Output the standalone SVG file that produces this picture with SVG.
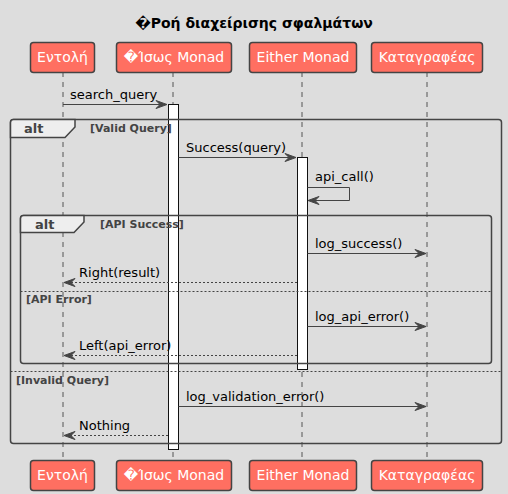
<svg xmlns="http://www.w3.org/2000/svg" width="508" height="494" viewBox="0 0 508 494">
<style>
text{font-family:"DejaVu Sans","Noto Sans",sans-serif;}
.title{font-size:14px;font-weight:bold;fill:#000;}
.pbox{fill:#FF6F61;stroke:#444;stroke-width:1.5;}
.ptxt{font-size:14px;fill:#fff;text-anchor:middle;}
.life{stroke:#555;stroke-width:1;stroke-dasharray:5,5;fill:none;}
.act{fill:#fff;stroke:#111;stroke-width:1;}
.msg{stroke:#444;stroke-width:1;fill:none;}
.dash{stroke:#444;stroke-width:1;stroke-dasharray:2,2;fill:none;}
.mtxt{font-size:13px;fill:#000;}
.frame{fill:none;stroke:#444;stroke-width:1.5;}
.tab{fill:#EEEEEE;stroke:#444;stroke-width:1.5;}
.alt{font-size:13px;font-weight:bold;fill:#444;}
.cond{font-size:11px;font-weight:bold;fill:#444;}
.sep{stroke:#444;stroke-width:1;stroke-dasharray:2,2;}
.head{fill:#444;stroke:#444;stroke-width:1;}
</style>
<rect width="508" height="494" fill="#DDDDDD"/>
<text class="title" x="254" y="28" text-anchor="middle">�Ροή διαχείρισης σφαλμάτων</text>

<g id="lifelines">
<line class="life" x1="63" y1="72" x2="63" y2="460"/>
<line class="life" x1="173" y1="72" x2="173" y2="460"/>
<line class="life" x1="302" y1="72" x2="302" y2="460"/>
<line class="life" x1="427" y1="72" x2="427" y2="460"/>
</g>

<g id="p-entoli">
<rect class="pbox" x="30.5" y="42.5" width="64" height="30" rx="3"/>
<text class="ptxt" x="62.5" y="62">Εντολή</text>
<rect class="pbox" x="30.5" y="460.5" width="64" height="30" rx="3"/>
<text class="ptxt" x="62.5" y="480">Εντολή</text>
</g>
<g id="p-isos">
<rect class="pbox" x="116.5" y="42.5" width="115" height="30" rx="3"/>
<text class="ptxt" x="174" y="62">�Ίσως Monad</text>
<rect class="pbox" x="116.5" y="460.5" width="115" height="30" rx="3"/>
<text class="ptxt" x="174" y="480">�Ίσως Monad</text>
</g>
<g id="p-either">
<rect class="pbox" x="249.5" y="42.5" width="107" height="30" rx="3"/>
<text class="ptxt" x="303" y="62">Either Monad</text>
<rect class="pbox" x="249.5" y="460.5" width="107" height="30" rx="3"/>
<text class="ptxt" x="303" y="480">Either Monad</text>
</g>
<g id="p-logger">
<rect class="pbox" x="371.5" y="42.5" width="111" height="30" rx="3"/>
<text class="ptxt" x="427" y="62">Καταγραφέας</text>
<rect class="pbox" x="371.5" y="460.5" width="111" height="30" rx="3"/>
<text class="ptxt" x="427" y="480">Καταγραφέας</text>
</g>

<g id="activations">
<rect class="act" x="168.5" y="104.5" width="10" height="345"/>
<rect class="act" x="297.5" y="157.5" width="10" height="212"/>
</g>

<g id="frames">
<rect class="frame" x="10.5" y="119.5" width="491" height="324" rx="3"/>
<path class="tab" d="M10.5,137.5 L10.5,122.5 Q10.5,119.5 13.5,119.5 L75,119.5 L75,127 L65,137.5 Z"/>
<text class="alt" x="24" y="133">alt</text>
<text class="cond" x="90" y="132">[Valid Query]</text>
<line class="sep" x1="10.5" y1="371.5" x2="501.5" y2="371.5"/>
<text class="cond" x="16" y="384">[Invalid Query]</text>

<rect class="frame" x="20.5" y="215.5" width="471" height="148" rx="3"/>
<path class="tab" d="M20.5,232.5 L20.5,218.5 Q20.5,215.5 23.5,215.5 L84,215.5 L84,222 L74,232.5 Z"/>
<text class="alt" x="35" y="229">alt</text>
<text class="cond" x="100" y="228">[API Success]</text>
<line class="sep" x1="20.5" y1="291.5" x2="491.5" y2="291.5"/>
<text class="cond" x="26" y="303">[API Error]</text>
</g>

<g id="connectors">
<line class="msg" x1="63" y1="104.5" x2="167" y2="104.5"/>
<polygon class="head" points="156,100.5 167,104.5 156,108.5 160,104.5"/>
<text class="mtxt" x="70" y="99">search_query</text>

<line class="msg" x1="178.5" y1="157.5" x2="296" y2="157.5"/>
<polygon class="head" points="285,153.5 296,157.5 285,161.5 289,157.5"/>
<text class="mtxt" x="186" y="152">Success(query)</text>

<polyline class="msg" points="307.5,187.5 349.5,187.5 349.5,200.5 309,200.5"/>
<polygon class="head" points="319,196.5 308,200.5 319,204.5 315,200.5"/>
<text class="mtxt" x="315" y="181">api_call()</text>

<line class="msg" x1="307.5" y1="253.5" x2="426" y2="253.5"/>
<polygon class="head" points="415,249.5 426,253.5 415,257.5 419,253.5"/>
<text class="mtxt" x="315" y="248">log_success()</text>

<line class="dash" x1="297" y1="282.5" x2="64" y2="282.5"/>
<polygon class="head" points="75,278.5 64,282.5 75,286.5 71,282.5"/>
<text class="mtxt" x="79" y="277">Right(result)</text>

<line class="msg" x1="307.5" y1="326.5" x2="426" y2="326.5"/>
<polygon class="head" points="415,322.5 426,326.5 415,330.5 419,326.5"/>
<text class="mtxt" x="315" y="321">log_api_error()</text>

<line class="dash" x1="297" y1="355.5" x2="64" y2="355.5"/>
<polygon class="head" points="75,351.5 64,355.5 75,359.5 71,355.5"/>
<text class="mtxt" x="79" y="350">Left(api_error)</text>

<line class="msg" x1="178.5" y1="406.5" x2="426" y2="406.5"/>
<polygon class="head" points="415,402.5 426,406.5 415,410.5 419,406.5"/>
<text class="mtxt" x="186" y="401">log_validation_error()</text>

<line class="dash" x1="168" y1="435.5" x2="64" y2="435.5"/>
<polygon class="head" points="75,431.5 64,435.5 75,439.5 71,435.5"/>
<text class="mtxt" x="79" y="430">Nothing</text>
</g>
</svg>
